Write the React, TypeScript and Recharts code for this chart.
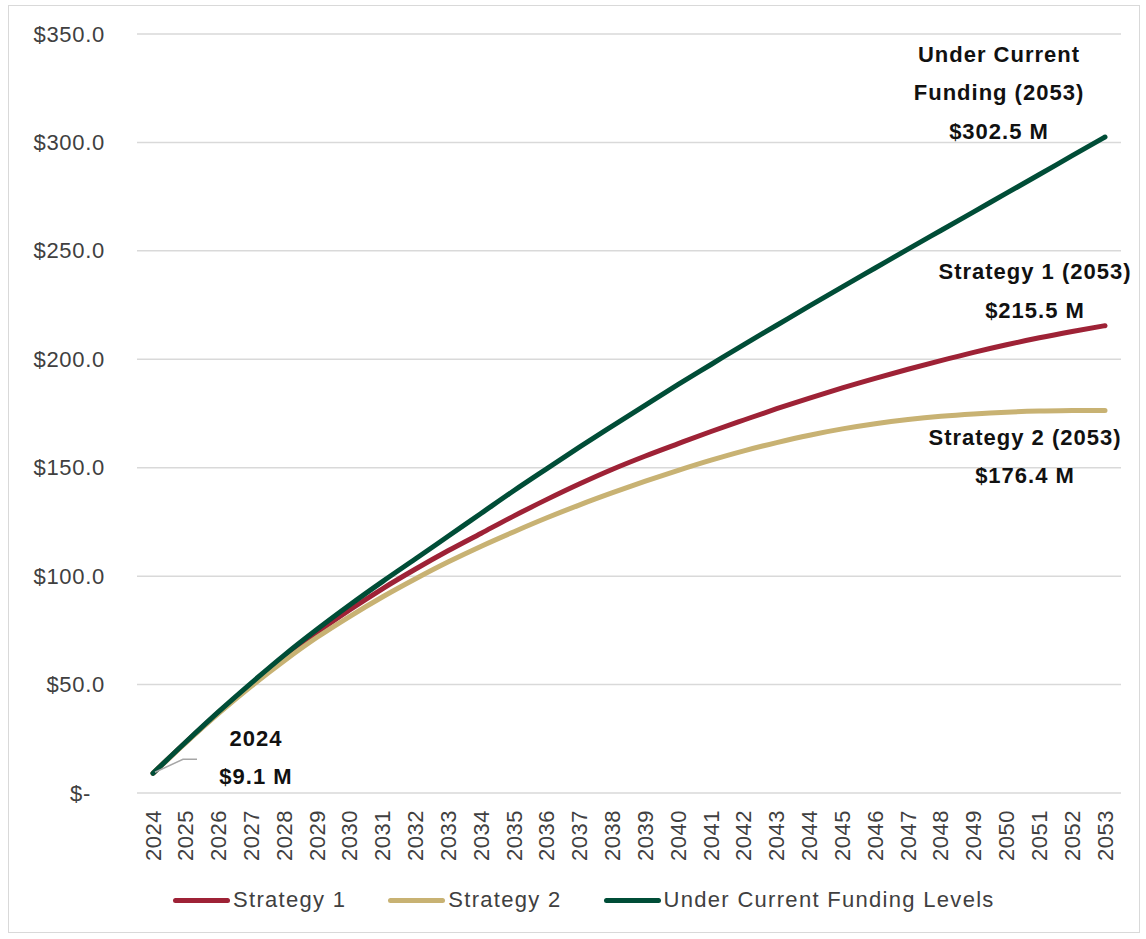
import React from 'react';
import { LineChart, Line, XAxis, YAxis, CartesianGrid } from 'recharts';

// Cumulative cost projections, $ millions
const years = [
  2024, 2025, 2026, 2027, 2028, 2029, 2030, 2031, 2032, 2033,
  2034, 2035, 2036, 2037, 2038, 2039, 2040, 2041, 2042, 2043,
  2044, 2045, 2046, 2047, 2048, 2049, 2050, 2051, 2052, 2053,
];

const strategy1 = [
  9.1, 23.4, 37.2, 50.2, 62.6, 74.0, 84.5, 94.3, 103.3, 111.8,
  119.8, 127.8, 135.4, 142.6, 149.3, 155.4, 161.1, 166.7, 172.0, 177.2,
  182.1, 186.8, 191.2, 195.4, 199.4, 203.2, 206.7, 209.9, 212.8, 215.5,
];

const strategy2 = [
  9.1, 23.2, 36.7, 49.3, 61.0, 71.8, 81.5, 90.5, 98.8, 106.6,
  113.8, 120.5, 126.9, 132.9, 138.5, 143.8, 148.8, 153.5, 157.8, 161.6,
  165.0, 167.9, 170.3, 172.2, 173.7, 174.8, 175.6, 176.1, 176.4, 176.4,
];

const currentFunding = [
  9.1, 23.5, 37.5, 50.8, 63.6, 75.5, 86.8, 97.6, 108.0, 118.5,
  129.0, 139.5, 149.6, 159.6, 169.3, 178.9, 188.4, 197.6, 206.8, 215.7,
  224.6, 233.4, 242.1, 250.8, 259.4, 268.0, 276.6, 285.2, 293.9, 302.5,
];

const yTicks = [0, 50, 100, 150, 200, 250, 300, 350];

const seriesNames = ['Strategy 1', 'Strategy 2', 'Under Current Funding Levels'];
const seriesKeys = ['s1', 's2', 'cur'];
const seriesColors = ['#9E2236', '#C8B273', '#004D37'];

const data = years.map((year, i) => ({
  year: String(year),
  s1: strategy1[i],
  s2: strategy2[i],
  cur: currentFunding[i],
}));

const FONT = '"Liberation Sans", Arial, sans-serif';
const TICK_COLOR = '#404040';
const LABEL_COLOR = '#111111';
const lastIndex = years.length - 1;
const lastYear = years[lastIndex];

const money = (v: number) => `$${v.toFixed(1)} M`;

const YTick = (props: any) => {
  const { x, y, payload } = props;
  const v = payload.value as number;
  const text = v === 0 ? '$-' : `$${v.toFixed(1)}`;
  return (
    <text
      x={x - 32 - (v === 0 ? 14 : 0)}
      y={y}
      textAnchor="end"
      dominantBaseline="central"
      fontFamily={FONT}
      fontSize={22}
      letterSpacing={0.7}
      fill={TICK_COLOR}
    >
      {text}
    </text>
  );
};

const XTick = (props: any) => {
  const { x, y, payload } = props;
  return (
    <g transform={`translate(${x},${y})`}>
      <text
        transform="rotate(-90)"
        x={-17}
        y={0}
        textAnchor="end"
        dominantBaseline="central"
        fontFamily={FONT}
        fontSize={22}
        letterSpacing={0.5}
        fill={TICK_COLOR}
      >
        {payload.value}
      </text>
    </g>
  );
};

// Multi-line bold annotation centred at (cx, top line centre y)
const Annotation = ({ cx, cy, lines }: { cx: number; cy: number; lines: string[] }) => (
  <g>
    {lines.map((t, k) => (
      <text
        key={k}
        x={cx}
        y={cy + k * 38.5}
        textAnchor="middle"
        dominantBaseline="central"
        fontFamily={FONT}
        fontWeight="bold"
        fontSize={22}
        letterSpacing={1}
        fill={LABEL_COLOR}
      >
        {t}
      </text>
    ))}
  </g>
);

const s1Label = (p: any) => {
  if (p.index !== lastIndex) return null;
  return (
    <Annotation
      key="s1-end"
      cx={p.x - 70}
      cy={p.y - 54}
      lines={[`Strategy 1 (${lastYear})`, money(strategy1[lastIndex])]}
    />
  );
};

const s2Label = (p: any) => {
  if (p.index !== lastIndex) return null;
  return (
    <Annotation
      key="s2-end"
      cx={p.x - 80}
      cy={p.y + 27}
      lines={[`Strategy 2 (${lastYear})`, money(strategy2[lastIndex])]}
    />
  );
};

const curLabel = (p: any) => {
  if (p.index === lastIndex) {
    return (
      <Annotation
        key="cur-end"
        cx={p.x - 106}
        cy={p.y - 83}
        lines={['Under Current', `Funding (${lastYear})`, money(currentFunding[lastIndex])]}
      />
    );
  }
  if (p.index === 0) {
    return (
      <g key="cur-start">
        <path
          d={`M${p.x + 2},${p.y - 1} L${p.x + 30},${p.y - 14} L${p.x + 44},${p.y - 14}`}
          fill="none"
          stroke="#A6A6A6"
          strokeWidth={1.5}
        />
        <Annotation cx={p.x + 103} cy={p.y - 35} lines={[String(years[0]), money(currentFunding[0])]} />
      </g>
    );
  }
  return null;
};

const labelRenderers = [s1Label, s2Label, curLabel];

const LegendRow = () => (
  <div
    style={{
      position: 'absolute',
      left: 173,
      top: 887,
      display: 'flex',
      alignItems: 'center',
      fontFamily: FONT,
      fontSize: 22,
      letterSpacing: 1.3,
      color: TICK_COLOR,
      whiteSpace: 'nowrap',
    }}
  >
    {seriesNames.map((name, i) => (
      <div key={name} style={{ display: 'flex', alignItems: 'center', marginRight: i < 2 ? 42 : 0 }}>
        <div
          style={{
            width: 57,
            height: 5,
            borderRadius: 3,
            background: seriesColors[i],
            marginRight: 3,
          }}
        />
        <span style={{ lineHeight: '26px' }}>{name}</span>
      </div>
    ))}
  </div>
);

export default function App() {
  return (
    <div
      style={{
        position: 'absolute',
        left: 0,
        top: 0,
        width: 1146,
        height: 939,
        background: '#ffffff',
      }}
    >
      <div
        style={{
          position: 'absolute',
          left: 8,
          top: 5,
          width: 1132,
          height: 928,
          border: '1.5px solid #D9D9D9',
          boxSizing: 'border-box',
        }}
      />
      <div style={{ position: 'absolute', left: 0, top: 0 }}>
        <LineChart
          width={1146}
          height={939}
          data={data}
          margin={{ top: 34, right: 25, left: 0, bottom: 0 }}
        >
          <CartesianGrid vertical={false} stroke="#D9D9D9" strokeWidth={1.5} />
          <XAxis
            dataKey="year"
            height={146}
            interval={0}
            padding={{ left: 16, right: 16 }}
            axisLine={false}
            tickLine={false}
            tickSize={0}
            tickMargin={0}
            tick={<XTick />}
          />
          <YAxis
            width={137}
            domain={[0, 350]}
            ticks={yTicks}
            interval={0}
            axisLine={false}
            tickLine={false}
            tickSize={0}
            tickMargin={0}
            tick={<YTick />}
          />
          {seriesKeys.map((k, i) => (
            <Line
              key={k}
              type="monotone"
              dataKey={k}
              name={seriesNames[i]}
              stroke={seriesColors[i]}
              strokeWidth={5}
              strokeLinecap="round"
              dot={false}
              activeDot={false}
              isAnimationActive={false}
              label={labelRenderers[i]}
            />
          ))}
        </LineChart>
      </div>
      <LegendRow />
    </div>
  );
}
